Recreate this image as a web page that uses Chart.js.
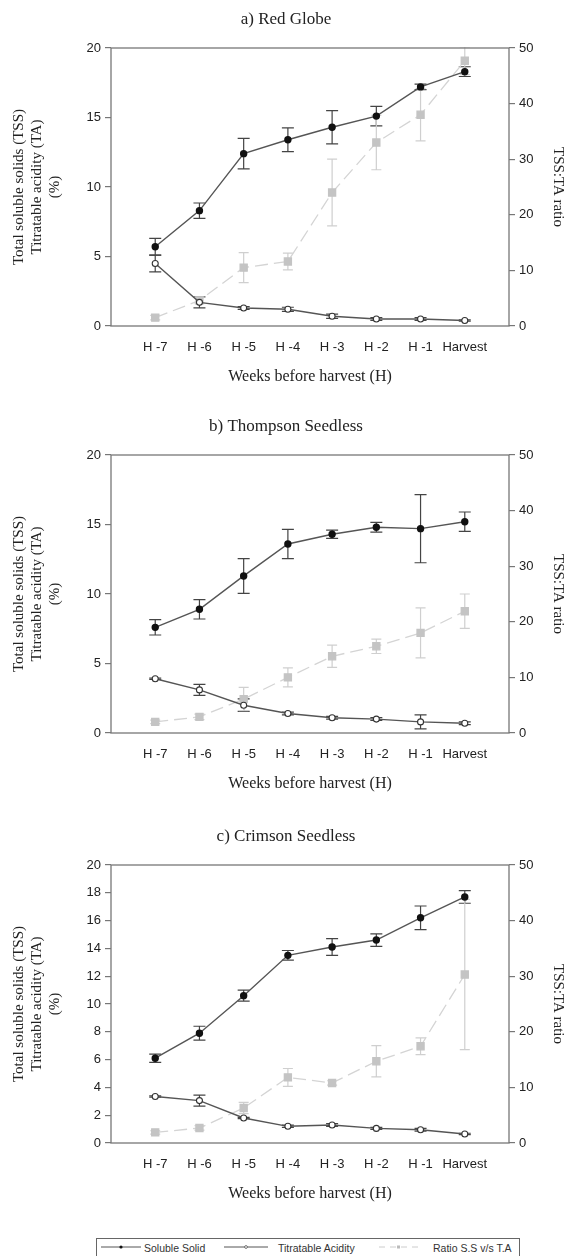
<!DOCTYPE html>
<html>
<head>
<meta charset="utf-8">
<script src="https://cdn.jsdelivr.net/npm/chart.js@4.4.1/dist/chart.umd.min.js"></script>
<style>
    body { margin: 0; background: #fff; }
    #page { position: relative; width: 572px; height: 1256px; overflow: hidden; background: #fff; }
    #page canvas { position: absolute; left: 0; }
    #legend {
        position: absolute; left: 96px; top: 1238px; width: 424px; height: 24px;
        border: 1px solid #666; box-sizing: border-box;
        font: 10.5px "Liberation Sans", Arial, sans-serif; color: #333;
        white-space: nowrap;
    }
    #legend svg, #legend span { position: absolute; top: 4px; }
    #legend span { top: 3px; }
</style>
</head>
<body>
<div id="page">
    <canvas id="chartA" width="572" height="405" style="top:0px"></canvas>
    <canvas id="chartB" width="572" height="405" style="top:407px"></canvas>
    <canvas id="chartC" width="572" height="405" style="top:817px"></canvas>
    <div id="legend">
        <svg width="40" height="8" style="left:4px"><line x1="0" y1="4" x2="40" y2="4" stroke="#555" stroke-width="1"/><circle cx="20" cy="4" r="1.6" fill="#111"/></svg>
        <span style="left:47px">Soluble Solid</span>
        <svg width="44" height="8" style="left:127px"><line x1="0" y1="4" x2="44" y2="4" stroke="#555" stroke-width="1"/><circle cx="22" cy="4" r="1.4" fill="#fff" stroke="#555" stroke-width="0.8"/></svg>
        <span style="left:181px">Titratable Acidity</span>
        <svg width="40" height="8" style="left:282px"><line x1="0" y1="4" x2="40" y2="4" stroke="#ccc" stroke-width="1" stroke-dasharray="6,5"/><rect x="18" y="2.5" width="3" height="3" fill="#bbb"/></svg>
        <span style="left:336px">Ratio S.S v/s T.A</span>
    </div>
</div>
<script>
const weeks = ['H -7', 'H -6', 'H -5', 'H -4', 'H -3', 'H -2', 'H -1', 'Harvest'];

// a) Red Globe
const ssRedGlobe = [5.7, 8.3, 12.4, 13.4, 14.3, 15.1, 17.2, 18.3];
const ssErrRedGlobe = [0.6, 0.55, 1.1, 0.85, 1.2, 0.7, 0.2, 0.35];
const taRedGlobe = [4.5, 1.7, 1.3, 1.2, 0.7, 0.5, 0.5, 0.4];
const taErrRedGlobe = [0.6, 0.4, 0.1, 0.15, 0.15, 0.1, 0.1, 0.05];
const ratioRedGlobe = [1.5, 4.6, 10.5, 11.6, 24.0, 33.0, 38.0, 47.7];
const ratioErrRedGlobe = [0.4, 0.6, 2.7, 1.5, 6.0, 4.9, 4.7, 2.5];

// b) Thompson Seedless
const ssThompson = [7.6, 8.9, 11.3, 13.6, 14.3, 14.8, 14.7, 15.2];
const ssErrThompson = [0.55, 0.7, 1.25, 1.05, 0.3, 0.35, 2.45, 0.7];
const taThompson = [3.9, 3.1, 2.0, 1.4, 1.1, 1.0, 0.8, 0.7];
const taErrThompson = [0.05, 0.4, 0.45, 0.1, 0.1, 0.1, 0.5, 0.1];
const ratioThompson = [2.0, 2.9, 6.1, 10.0, 13.8, 15.6, 18.0, 21.9];
const ratioErrThompson = [0.3, 0.5, 2.1, 1.7, 2.0, 1.3, 4.5, 3.1];

// c) Crimson Seedless
const ssCrimson = [6.1, 7.9, 10.6, 13.5, 14.1, 14.6, 16.2, 17.7];
const ssErrCrimson = [0.3, 0.5, 0.4, 0.35, 0.6, 0.45, 0.85, 0.45];
const taCrimson = [3.35, 3.05, 1.8, 1.2, 1.3, 1.05, 0.95, 0.65];
const taErrCrimson = [0.05, 0.4, 0.05, 0.08, 0.1, 0.08, 0.1, 0.05];
const ratioCrimson = [1.9, 2.7, 6.3, 11.8, 10.8, 14.7, 17.4, 30.3];
const ratioErrCrimson = [0.3, 0.4, 1.0, 1.6, 0.4, 2.8, 1.5, 13.5];

const SANS = '"Liberation Sans", Arial, sans-serif';
const SERIF = '"Liberation Serif", "Times New Roman", serif';

// error bars drawn under the markers, plus the frame round the plot
const errorBars = {
    id: 'errorBars',
    beforeDatasetsDraw(chart) {
        const ctx = chart.ctx;
        const area = chart.chartArea;
        ctx.save();
        ctx.beginPath();
        ctx.rect(area.left, area.top - 1, area.right - area.left, area.bottom - area.top + 2);
        ctx.clip();
        chart.data.datasets.forEach((ds, di) => {
            if (!ds.errors) return;
            const meta = chart.getDatasetMeta(di);
            const scale = chart.scales[ds.yAxisID];
            ctx.strokeStyle = ds.errorColor;
            ctx.lineWidth = 1.2;
            meta.data.forEach((pt, i) => {
                const v = ds.data[i].y;
                const e = ds.errors[i];
                const top = scale.getPixelForValue(v + e);
                const bot = scale.getPixelForValue(v - e);
                const w = ds.capWidth / 2;
                ctx.beginPath();
                ctx.moveTo(pt.x, top); ctx.lineTo(pt.x, bot);
                ctx.moveTo(pt.x - w, top); ctx.lineTo(pt.x + w, top);
                ctx.moveTo(pt.x - w, bot); ctx.lineTo(pt.x + w, bot);
                ctx.stroke();
            });
        });
        ctx.restore();
    },
    afterDraw(chart) {
        const ctx = chart.ctx;
        const a = chart.chartArea;
        ctx.save();
        ctx.strokeStyle = '#777';
        ctx.lineWidth = 1.3;
        ctx.strokeRect(a.left, a.top, a.right - a.left, a.bottom - a.top);
        ctx.restore();
    }
};

function points(values) {
    return values.map((v, i) => ({ x: i + 1, y: v }));
}

function makePanel(id, title, ss, ssErr, ta, taErr, ratio, ratioErr, leftStep) {
    new Chart(document.getElementById(id), {
        type: 'line',
        data: {
            datasets: [
                {
                    label: 'Soluble Solid',
                    data: points(ss),
                    errors: ssErr,
                    errorColor: '#444',
                    capWidth: 12,
                    yAxisID: 'y',
                    borderColor: '#555',
                    borderWidth: 1.4,
                    pointRadius: 3,
                    pointBackgroundColor: '#111',
                    pointBorderColor: '#111',
                    order: 1
                },
                {
                    label: 'Titratable Acidity',
                    data: points(ta),
                    errors: taErr,
                    errorColor: '#444',
                    capWidth: 12,
                    yAxisID: 'y',
                    borderColor: '#555',
                    borderWidth: 1.4,
                    pointRadius: 3,
                    pointBackgroundColor: '#fff',
                    pointBorderColor: '#333',
                    pointBorderWidth: 1.1,
                    order: 2
                },
                {
                    label: 'Ratio S.S v/s T.A',
                    data: points(ratio),
                    errors: ratioErr,
                    errorColor: '#cfcfcf',
                    capWidth: 10,
                    yAxisID: 'y1',
                    borderColor: '#d4d4d4',
                    borderWidth: 1.3,
                    borderDash: [13, 6],
                    pointStyle: 'rect',
                    pointRadius: 5,
                    pointBackgroundColor: '#c4c4c4',
                    pointBorderColor: '#c4c4c4',
                    order: 3
                }
            ]
        },
        options: {
            responsive: false,
            animation: false,
            devicePixelRatio: 1,
            layout: { padding: 0 },
            scales: {
                x: {
                    type: 'linear',
                    position: 'bottom',
                    min: 0,
                    max: 9,
                    afterBuildTicks: s => { s.ticks = weeks.map((w, i) => ({ value: i + 1 })); },
                    afterFit: s => { s.height = 405 - 326; },
                    ticks: {
                        callback: v => weeks[v - 1] || '',
                        autoSkip: false,
                        maxRotation: 0,
                        padding: 14,
                        color: '#222',
                        font: { family: SANS, size: 13 }
                    },
                    grid: { display: true, drawOnChartArea: false, drawTicks: false },
                    border: { display: false },
                    title: {
                        display: true,
                        text: 'Weeks before harvest (H)',
                        color: '#222',
                        font: { family: SERIF, size: 16 },
                        padding: { top: 0, bottom: 19 }
                    }
                },
                y: {
                    position: 'left',
                    min: 0,
                    max: 20,
                    afterFit: s => { s.width = 111; },
                    ticks: {
                        stepSize: leftStep,
                        padding: 4,
                        color: '#222',
                        font: { family: SANS, size: 13 }
                    },
                    grid: { drawOnChartArea: false, tickLength: 6, color: '#777', lineWidth: 1.2 },
                    border: { display: false },
                    title: {
                        display: true,
                        text: ['Total soluble solids (TSS)', 'Titratable acidity (TA)', '(%)'],
                        color: '#222',
                        font: { family: SERIF, size: 15, lineHeight: 1.2 },
                        padding: { top: 10, bottom: 0 }
                    }
                },
                y1: {
                    position: 'right',
                    min: 0,
                    max: 50,
                    afterFit: s => { s.width = 572 - 509; },
                    ticks: {
                        stepSize: 10,
                        padding: 4,
                        color: '#222',
                        font: { family: SANS, size: 13 }
                    },
                    grid: { drawOnChartArea: false, tickLength: 6, color: '#777', lineWidth: 1.2 },
                    border: { display: false },
                    title: {
                        display: true,
                        text: 'TSS:TA ratio',
                        color: '#222',
                        font: { family: SERIF, size: 15, lineHeight: 1.2 },
                        padding: { top: 5, bottom: 0 }
                    }
                }
            },
            plugins: {
                legend: { display: false },
                tooltip: { enabled: false },
                title: {
                    display: true,
                    text: title,
                    color: '#222',
                    font: { family: SERIF, size: 17, weight: 'normal', lineHeight: 1.2 },
                    padding: { top: 9.8, bottom: 17.8 }
                }
            }
        },
        plugins: [errorBars]
    });
}

makePanel('chartA', 'a) Red Globe', ssRedGlobe, ssErrRedGlobe, taRedGlobe, taErrRedGlobe, ratioRedGlobe, ratioErrRedGlobe, 5);
makePanel('chartB', 'b) Thompson Seedless', ssThompson, ssErrThompson, taThompson, taErrThompson, ratioThompson, ratioErrThompson, 5);
makePanel('chartC', 'c) Crimson Seedless', ssCrimson, ssErrCrimson, taCrimson, taErrCrimson, ratioCrimson, ratioErrCrimson, 2);
</script>
</body>
</html>
